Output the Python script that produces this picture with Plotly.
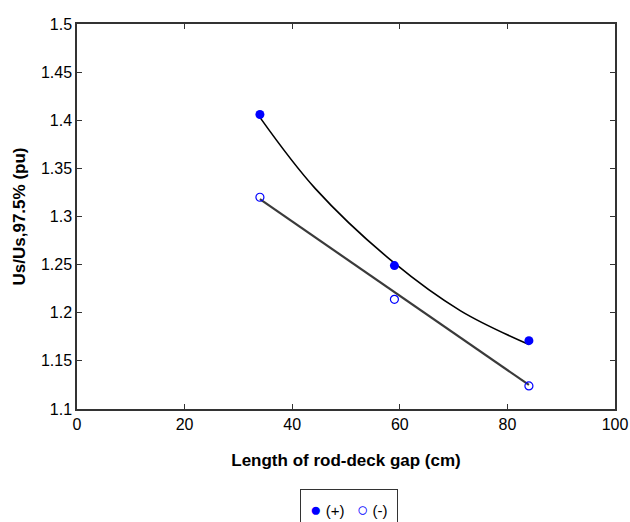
import plotly.graph_objects as go

# data
gap_cm = [34, 59, 84]
pos_values = [1.406, 1.249, 1.171]
neg_values = [1.320, 1.214, 1.124]

# fitted curves
pos_fit_x = [34, 44.3, 58.9, 71.3, 84]
pos_fit_y = [1.403, 1.329, 1.252, 1.202, 1.167]
neg_fit_x = [34, 84]
neg_fit_y = [1.318, 1.125]

x_ticks = [0, 20, 40, 60, 80, 100]
y_ticks = [1.1, 1.15, 1.2, 1.25, 1.3, 1.35, 1.4, 1.45, 1.5]
series_names = ["(+)", "(-)"]

FONT = "Liberation Sans, Arial"

fig = go.Figure()
fig.add_trace(go.Scatter(x=pos_fit_x, y=pos_fit_y, mode="lines",
                         line=dict(color="black", width=1.6, shape="spline"),
                         showlegend=False, hoverinfo="skip"))
fig.add_trace(go.Scatter(x=neg_fit_x, y=neg_fit_y, mode="lines",
                         line=dict(color="#3a3a3a", width=2.2),
                         showlegend=False, hoverinfo="skip"))
fig.add_trace(go.Scatter(x=gap_cm, y=pos_values, mode="markers", name=series_names[0],
                         marker=dict(symbol="circle", size=9, color="#0000ff"), showlegend=False))
fig.add_trace(go.Scatter(x=gap_cm, y=neg_values, mode="markers", name=series_names[1],
                         marker=dict(symbol="circle-open", size=8, color="#0000ff", line=dict(width=1.2)),
                         showlegend=False))

axis_common = dict(showgrid=False, zeroline=False, showline=True, linecolor="#333333", linewidth=1.5,
                   mirror="ticks", ticks="inside", ticklen=5, tickcolor="#333333", automargin=False,
                   tickfont=dict(family=FONT, size=16, color="black"))

fig.update_xaxes(range=[0, 100], tickvals=x_ticks, ticktext=[str(v) for v in x_ticks],
                 title=dict(text="<b>Length of rod-deck gap (cm)</b>", standoff=22,
                            font=dict(family=FONT, size=17, color="black")),
                 **axis_common)
fig.update_yaxes(range=[1.1, 1.5], tickvals=y_ticks, ticktext=[f"{v:g}" for v in y_ticks],
                 title=dict(text="<b>Us/Us,97.5% (pu)</b>", standoff=11,
                            font=dict(family=FONT, size=17, color="black")),
                 **axis_common)

# legend box below the axes
mk = "<span style='color:#0000ff;font-size:19px'>{}</span>"
legend_text = (mk.format("●") + " " + series_names[0] + "&nbsp;&nbsp;&nbsp;"
               + mk.format("○") + " " + series_names[1])
fig.add_annotation(xref="paper", yref="paper", x=0.505, y=-0.207, xanchor="center", yanchor="top",
                   text=legend_text, showarrow=False, align="center",
                   font=dict(family=FONT, size=15, color="black"),
                   bordercolor="#333333", borderwidth=1, borderpad=9, bgcolor="white")

fig.update_layout(
    width=630, height=522,
    margin=dict(l=77, r=15, t=24, b=113),
    plot_bgcolor="white", paper_bgcolor="white",
    showlegend=False,
)

fig.write_html("out.html", config={"displayModeBar": False},
               post_script="document.body.style.margin='0';")
